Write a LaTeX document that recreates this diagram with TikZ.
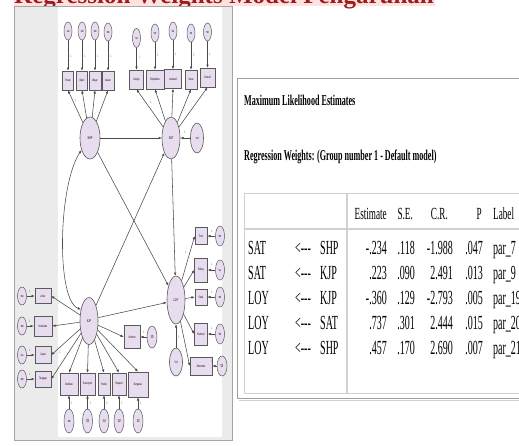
\documentclass[tikz,border=0pt]{standalone}
\usepackage{fontspec}
\setmainfont{Liberation Serif}
\newfontfamily\tabfont[FakeStretch=0.5]{Liberation Serif}
\newfontfamily\hdrfont[FakeStretch=0.54]{Liberation Serif}
\newfontfamily\semfont[FakeStretch=0.6]{Liberation Sans}
\usetikzlibrary{shapes.geometric,arrows.meta}
\definecolor{lav}{HTML}{E8DCEF}
\definecolor{edgec}{HTML}{5A5A5A}
\definecolor{wire}{HTML}{4A4A4A}
\definecolor{bannerpink}{HTML}{FDE2E2}
\definecolor{bannerred}{HTML}{9E1C1C}
\definecolor{framegray}{HTML}{EBEBEB}
\definecolor{gridgray}{HTML}{D0D0D0}
\newcommand{\vt}[1]{\rotatebox{90}{#1}}
\tikzset{
  lat/.style={ellipse, draw=edgec, fill=lav, line width=0.6pt, inner sep=0pt,
    font=\semfont\fontsize{4}{4}\selectfont},
  errv/.style={ellipse, draw=edgec, fill=lav, line width=0.5pt, inner sep=0pt,
    minimum width=8pt, minimum height=18pt, font=\semfont\fontsize{3.5}{4}\selectfont},
  ind/.style={rectangle, draw=edgec, fill=lav, line width=0.6pt, inner sep=0pt,
    font=\semfont\fontsize{3.3}{4}\selectfont},
  arr/.style={draw=wire, line width=0.55pt, -{Latex[length=3.2pt,width=2.6pt]}},
  cov/.style={draw=wire, line width=0.55pt,
    {Latex[length=3.2pt,width=2.6pt]}-{Latex[length=3.2pt,width=2.6pt]}},
  one/.style={font=\semfont\fontsize{3.5}{4}\selectfont, text=wire, inner sep=0pt},
  ttl/.style={font=\hdrfont\bfseries\fontsize{15}{15}\selectfont, inner sep=0pt, anchor=base west},
  hdr/.style={font=\hdrfont\fontsize{17}{17}\selectfont, inner sep=0pt},
  cell/.style={font=\tabfont\fontsize{20}{20}\selectfont, inner sep=0pt},
}
\begin{document}
\begin{tikzpicture}[x=1pt,y=-1pt]
\useasboundingbox (0,0) rectangle (519,445);

% heading band
\fill[bannerpink] (14,-20) rectangle (435,6);
\node[anchor=base west, inner sep=0pt, text=bannerred,
  font=\bfseries\fontsize{25}{25}\selectfont] (heading) at (14,3)
  {Regression Weights Model Pengaruhan};

% ---------- path diagram panel ----------
\filldraw[fill=framegray, draw=gray!70, line width=0.6pt] (14,6) rectangle (232,440);
\fill[white] (58,7) rectangle (222,437);

% latent variables
\node[lat, minimum width=20pt, minimum height=42pt] (SHP) at (90,138) {SHP};
\node[lat, minimum width=18pt, minimum height=42pt] (SAT) at (171,138) {SAT};
\node[lat, minimum width=18pt, minimum height=47pt] (KJP) at (89,321) {KJP};
\node[lat, minimum width=18pt, minimum height=48pt] (LOY) at (176,300) {LOY};
\node[lat, minimum width=13pt, minimum height=30pt] (z1) at (197,138) {\vt{z1}};
\node[lat, minimum width=13pt, minimum height=28pt] (z2) at (176,362) {\vt{z2}};

% SHP indicators
\node[ind, minimum width=11pt, minimum height=19pt] (Pesan) at (68,80.5) {Pesan};
\node[ind, minimum width=11pt, minimum height=19pt] (Open)  at (82,80.5) {Open};
\node[ind, minimum width=12pt, minimum height=19pt] (Wajar) at (95,80.5) {Wajar};
\node[ind, minimum width=12pt, minimum height=19pt] (Aware) at (108,80.5) {Aware};
\node[errv] (d1) at (68,31) {\vt{d1}};
\node[errv] (d2) at (82,31) {\vt{d2}};
\node[errv] (d3) at (95,31) {\vt{d3}};
\node[errv] (d4) at (108,32) {\vt{d4}};

% SAT indicators
\node[ind, minimum width=14pt, minimum height=19pt] (Design)   at (136.5,79.5) {Design};
\node[ind, minimum width=18pt, minimum height=19pt] (Empathy)  at (155,79.5) {Empathise};
\node[ind, minimum width=17pt, minimum height=19pt] (Assisted) at (173,79) {Assisted};
\node[ind, minimum width=12pt, minimum height=19pt] (Value)    at (191,79.5) {Value};
\node[ind, minimum width=15pt, minimum height=19pt] (Overall)  at (207.5,77.5) {Overall};
\node[errv, minimum height=19pt] (e1) at (136.5,38) {\vt{e1}};
\node[errv] (e2) at (155,33) {\vt{e2}};
\node[errv] (e3) at (173,31) {\vt{e3}};
\node[errv] (e4) at (191,33) {\vt{e4}};
\node[errv] (e5) at (207.5,32) {\vt{e5}};

% KJP indicators, left column
\node[ind, minimum width=16pt, minimum height=15pt] (Antar)     at (43,296) {Antar};
\node[ind, minimum width=18pt, minimum height=20pt] (Konsisten) at (43,326) {Konsisten};
\node[ind, minimum width=16pt, minimum height=17pt] (Cepat)     at (43,355) {Cepat};
\node[ind, minimum width=16pt, minimum height=16pt] (Tanggap)   at (43,379) {Tanggap};
\node[errv, minimum width=9pt] (d5) at (22,296) {\vt{d5}};
\node[errv, minimum width=9pt] (d6) at (22,326) {\vt{d6}};
\node[errv, minimum width=9pt] (d7) at (22,355) {\vt{d7}};
\node[errv, minimum width=9pt] (d8) at (22,379) {\vt{d8}};

% KJP indicators, bottom row
\node[ind, minimum width=18pt, minimum height=22pt] (Dedikasi)  at (69,384) {Dedikasi};
\node[ind, minimum width=15pt, minimum height=22pt] (Tersenyum) at (87.5,384) {Tersenyum};
\node[ind, minimum width=12pt, minimum height=22pt] (Peduli)    at (104,384) {Peduli};
\node[ind, minimum width=14pt, minimum height=22pt] (Respect)   at (119,384) {Respect};
\node[ind, minimum width=20pt, minimum height=25pt] (Bergurau)  at (138,384.5) {Bergurau};
\node[errv, minimum width=10pt, minimum height=24pt] (d9)  at (69,421) {\vt{d9}};
\node[errv, minimum width=10pt, minimum height=24pt] (d10) at (87.5,421) {\vt{d10}};
\node[errv, minimum width=10pt, minimum height=24pt] (d11) at (104,421) {\vt{d11}};
\node[errv, minimum width=10pt, minimum height=24pt] (d12) at (119,421) {\vt{d12}};
\node[errv, minimum width=10pt, minimum height=24pt] (d13) at (138,421) {\vt{d13}};
\node[ind, minimum width=16pt, minimum height=23pt] (Uniform) at (132,337) {Uniform};
\node[errv, minimum width=10pt, minimum height=22pt] (d14) at (152,337) {\vt{d14}};

% LOY indicators
\node[ind, minimum width=12pt, minimum height=17pt] (Trust)    at (201,236) {Trust};
\node[ind, minimum width=13pt, minimum height=24pt] (Rebuy)    at (201,270) {Rebuy};
\node[ind, minimum width=12pt, minimum height=16pt] (Setia)    at (201,297) {Setia};
\node[ind, minimum width=13pt, minimum height=22pt] (Referral) at (201,334) {Referral};
\node[ind, minimum width=22pt, minimum height=18pt] (Rekomen)  at (201,366) {Rekomen};
\node[errv, minimum width=9pt, minimum height=20pt] (e6)  at (220,236) {\vt{e6}};
\node[errv, minimum width=9pt, minimum height=20pt] (e7)  at (220,270) {\vt{e7}};
\node[errv, minimum width=9pt, minimum height=20pt] (e8)  at (220,297) {\vt{e8}};
\node[errv, minimum width=9pt, minimum height=20pt] (e9)  at (220,334) {\vt{e9}};
\node[errv, minimum width=10pt, minimum height=20pt] (e10) at (222,366) {\vt{e10}};

% measurement paths
\foreach \b in {Pesan,Open,Wajar,Aware} \draw[arr] (SHP) -- (\b.south);
\foreach \b in {Design,Empathy,Assisted,Value,Overall} \draw[arr] (SAT) -- (\b.south);
\foreach \b in {Antar,Konsisten,Cepat,Tanggap} \draw[arr] (KJP) -- (\b.east);
\foreach \b in {Dedikasi,Tersenyum,Peduli,Respect,Bergurau} \draw[arr] (KJP) -- (\b.north);
\draw[arr] (KJP) -- (Uniform.west);
\foreach \b in {Trust,Rebuy,Setia,Referral,Rekomen} \draw[arr] (LOY) -- (\b.west);

% error terms
\foreach \e/\b in {d1/Pesan,d2/Open,d3/Wajar,d4/Aware,e1/Design,e2/Empathy,e3/Assisted,e4/Value,e5/Overall,
  d5/Antar,d6/Konsisten,d7/Cepat,d8/Tanggap,d9/Dedikasi,d10/Tersenyum,d11/Peduli,d12/Respect,d13/Bergurau,
  d14/Uniform,e6/Trust,e7/Rebuy,e8/Setia,e9/Referral,e10/Rekomen}
  \draw[arr] (\e) -- (\b);
\draw[arr] (z1) -- (SAT);
\draw[arr] (z2) -- (LOY);

% structural paths
\draw[arr] (SHP) -- (SAT);
\draw[arr] (SHP) -- (LOY);
\draw[arr] (KJP) -- (SAT);
\draw[arr] (KJP.20) -- (LOY.195);
\draw[arr] (SAT) -- (LOY);
\draw[cov] (SHP.235) .. controls (58,185) and (56,300) .. (KJP.125);

% fixed loadings
\node[one] (f1) at (76,100) {1};
\node[one] (f2) at (151,102) {1};
\node[one] (f3) at (185,132) {1};
\node[one] (f4) at (60,352) {1};
\node[one] (f5) at (186,252) {1};
\node[one] (f6) at (179,337) {1};
\foreach \x/\y [count=\i] in {71/56,85/56,98/56,111/56,140/57,158/55,176/54,194/55,210/54} \node[one] (fa\i) at (\x,\y) {1};
\foreach \y [count=\i] in {291,321,350,374} \node[one] (fb\i) at (30,\y) {1};
\foreach \x [count=\i] in {72,90.5,107,122,141} \node[one] (fc\i) at (\x,403) {1};
\foreach \y [count=\i] in {231,264,292,328,361} \node[one] (fd\i) at (212,\y) {1};
\node[one] (fe) at (144,332) {1};

% ---------- estimates table ----------
\draw[gray!35, line width=1pt] (239,400) -- (530,400);
\draw[gray!75, line width=0.9pt] (237,78) rectangle (530,398);
\draw[gridgray, line width=0.8pt] (244,193) rectangle (530,393);
\draw[gridgray, line width=1.6pt] (244,229) -- (530,229);
\draw[gridgray, line width=1.2pt] (347,193) -- (347,393);

\node[ttl] (mle) at (244,105) {Maximum Likelihood Estimates};
\node[ttl] (rw) at (244,160) {Regression Weights: (Group number 1 - Default model)};

\node[hdr, anchor=base east] (hEst) at (387,219) {Estimate};
\node[hdr, anchor=base east] (hSE)  at (413,219) {S.E.};
\node[hdr, anchor=base east] (hCR)  at (448,219) {C.R.};
\node[hdr, anchor=base east] (hP)   at (482,219) {P};
\node[hdr, anchor=base west] (hLab) at (493,219) {Label};

\foreach \dv/\iv/\est/\se/\cr/\p/\lab [count=\r] in {
  SAT/SHP/-.234/.118/-1.988/.047/par\_7,
  SAT/KJP/.223/.090/2.491/.013/par\_9,
  LOY/KJP/-.360/.129/-2.793/.005/par\_19,
  LOY/SAT/.737/.301/2.444/.015/par\_20,
  LOY/SHP/.457/.170/2.690/.007/par\_21}{
  \pgfmathsetmacro{\yb}{229+25*\r}
  \node[cell, anchor=base west] (dv\r)  at (248,\yb) {\dv};
  \node[cell, anchor=base west] (ar\r)  at (295,\yb) {<{-}{-}{-}};
  \node[cell, anchor=base west] (iv\r)  at (320,\yb) {\iv};
  \node[cell, anchor=base east] (est\r) at (387,\yb) {\est};
  \node[cell, anchor=base east] (se\r)  at (415,\yb) {\se};
  \node[cell, anchor=base east] (cr\r)  at (453,\yb) {\cr};
  \node[cell, anchor=base east] (p\r)   at (483,\yb) {\p};
  \node[cell, anchor=base west] (lab\r) at (493,\yb) {\lab};
}
\end{tikzpicture}
\end{document}
